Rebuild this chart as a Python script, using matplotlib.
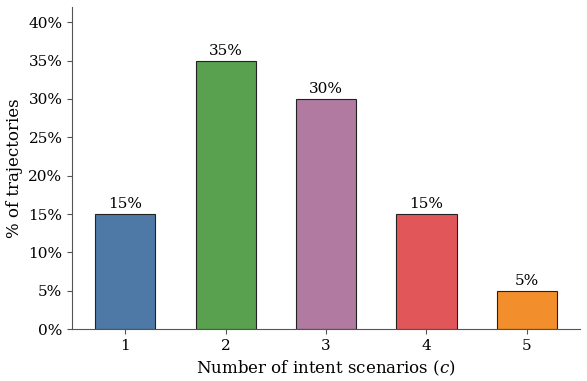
import matplotlib
matplotlib.use("Agg")
import matplotlib.pyplot as plt
from matplotlib.ticker import PercentFormatter

scenarios = [1, 2, 3, 4, 5]
shares = [15, 35, 30, 15, 5]
colors = ["#4e79a7", "#59a14f", "#b07aa1", "#e15759", "#f28e2b"]

plt.rcParams["font.family"] = "DejaVu Serif"
plt.rcParams["mathtext.fontset"] = "dejavuserif"

fig, ax = plt.subplots(figsize=(5.87, 3.81), dpi=100)
fig.subplots_adjust(left=0.123, right=0.988, bottom=0.136, top=0.982)

bars = ax.bar(scenarios, shares, width=0.6, color=colors, edgecolor="#222222", linewidth=0.8)
for x, v in zip(scenarios, shares):
    ax.text(x, v + 0.4, f"{v}%", ha="center", va="bottom", fontsize=11)

ax.set_ylim(0, 42)
ax.set_yticks(range(0, 41, 5))
ax.yaxis.set_major_formatter(PercentFormatter(decimals=0))
ax.set_xticks(scenarios)
ax.tick_params(labelsize=11, color="#555555")
ax.set_xlabel("Number of intent scenarios ($c$)", fontsize=12)
ax.set_ylabel("% of trajectories", fontsize=12)
for s in ["top", "right"]:
    ax.spines[s].set_visible(False)
for s in ["left", "bottom"]:
    ax.spines[s].set_color("#555555")

fig.savefig("out.png", dpi=100)
